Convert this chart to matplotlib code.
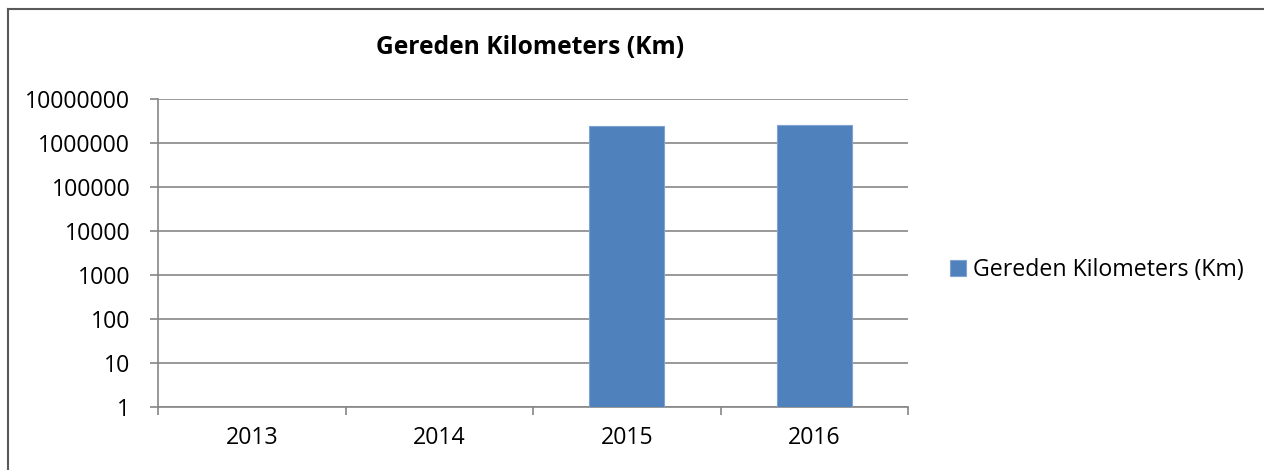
import matplotlib
matplotlib.use("Agg")
import matplotlib.pyplot as plt
from matplotlib.lines import Line2D
import numpy as np

years = ["2013", "2014", "2015", "2016"]
km_values = [0, 0, 2380000, 2610000]
series_name = "Gereden Kilometers (Km)"
title = "Gereden Kilometers (Km)"
ytick_values = [1, 10, 100, 1000, 10000, 100000, 1000000, 10000000]
ytick_labels = ["1", "10", "100", "1000", "10000", "100000", "1000000", "10000000"]

plt.rcParams['font.family'] = ['Open Sans', 'DejaVu Sans']

fig = plt.figure(figsize=(12.64, 4.70), dpi=100)
ax = fig.add_axes([158/1264, 1 - 407/470, (908-158)/1264, (407-99)/470])

grid_c = "#868686"
fs = 16.7
x = np.arange(len(years))
vals = [v if v > 0 else np.nan for v in km_values]
ax.bar(x, vals, width=0.4, bottom=1, color="#4F81BD", edgecolor="#7EA3D3",
       linewidth=0.8, label=series_name, zorder=3)

ax.set_yscale("log")
ax.set_ylim(1, 10000000)
ax.set_xlim(-0.5, len(years) - 0.5)
ax.set_yticks(ytick_values)
ax.set_yticklabels(ytick_labels)
ax.yaxis.set_minor_locator(matplotlib.ticker.NullLocator())
ax.set_xticks(x)
ax.set_xticklabels(years)
ax.set_xticks(np.arange(-0.5, len(years)), minor=True)
ax.tick_params(axis="x", which="major", length=0, pad=14, labelsize=fs)
ax.tick_params(axis="x", which="minor", length=6, color=grid_c, width=1.2)
ax.tick_params(axis="y", which="major", length=6, color=grid_c, width=1.2, pad=14, labelsize=fs)
ax.grid(axis="y", color=grid_c, linewidth=1.2, zorder=0)
for s in ["top", "right"]:
    ax.spines[s].set_visible(False)
for s in ["left", "bottom"]:
    ax.spines[s].set_color(grid_c)
    ax.spines[s].set_linewidth(1.2)

fig.text(530/1264, 1 - 47/470, title, ha="center", va="center",
         fontsize=17.7, fontweight="bold")

leg = fig.legend(loc="center left", bbox_to_anchor=(950/1264, 1 - 270/470),
                 frameon=False, fontsize=fs, handlelength=0.7, handleheight=0.7,
                 handletextpad=0.3, borderpad=0, borderaxespad=0)

x0 = 7.5/1264
y0 = 1 - 9/470
fig.add_artist(Line2D([x0, 1.0], [y0, y0], transform=fig.transFigure,
                      color="#595959", linewidth=1.5))
fig.add_artist(Line2D([x0, x0], [0.0, y0], transform=fig.transFigure,
                      color="#595959", linewidth=1.5))

fig.savefig("out.png", dpi=100)
